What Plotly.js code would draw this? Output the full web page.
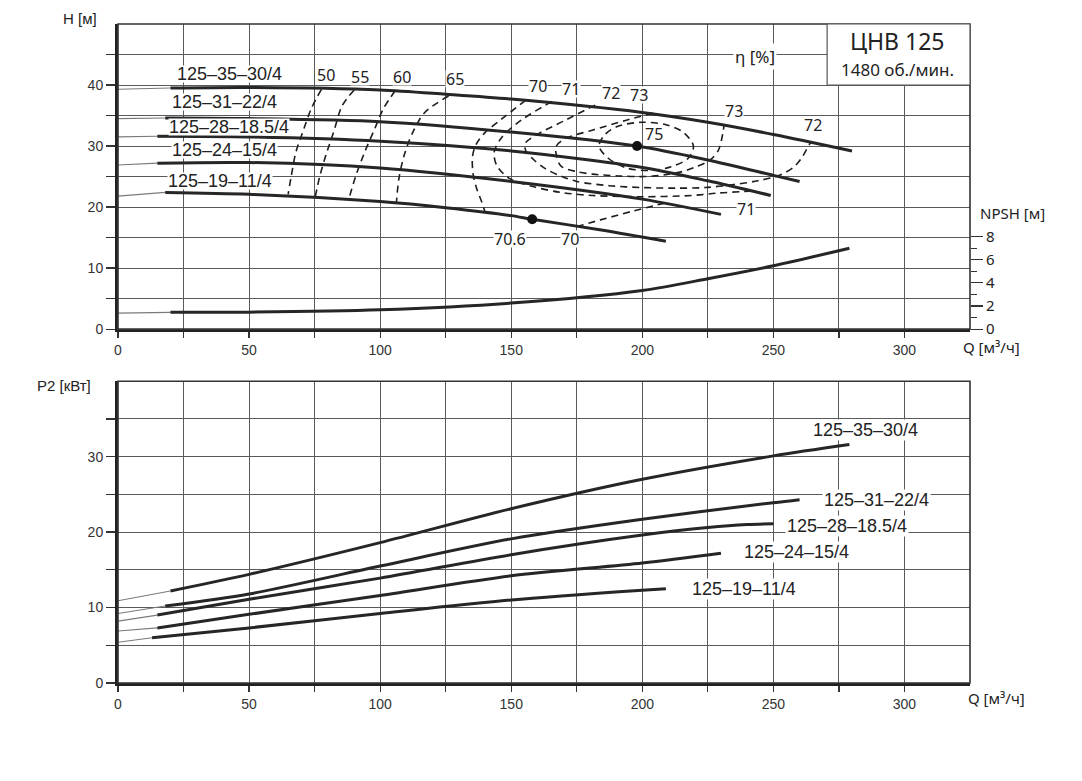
<!DOCTYPE html>
<html><head><meta charset="utf-8">
<script src="https://cdn.plot.ly/plotly-3.0.1.min.js"></script>
<style>body{margin:0;background:#fff}#chart{width:1082px;height:781px}</style>
</head><body><div id="chart"></div>
<script>
// ---------- H(Q) curves ----------
var pumpNames = ['125–35–30/4','125–31–22/4','125–28–18.5/4','125–24–15/4','125–19–11/4'];
var Q35 = [0, 20, 50, 100, 125, 150, 200, 225, 250, 280];
var H35 = [39.3, 39.5, 39.6, 39.2, 38.5, 37.7, 35.5, 33.9, 31.9, 29.2];
var Q31 = [0, 18, 50, 100, 150, 198, 225, 250, 260];
var H31 = [34.5, 34.6, 34.5, 34.0, 32.3, 30.0, 27.7, 25.2, 24.2];
var Q28 = [0, 15, 50, 100, 150, 200, 225, 249];
var H28 = [31.5, 31.6, 31.5, 30.8, 29.2, 26.5, 24.3, 21.9];
var Q24 = [0, 15, 50, 100, 150, 200, 230];
var H24 = [26.9, 27.2, 27.3, 26.4, 24.2, 21.3, 18.8];
var Q19 = [0, 18, 50, 100, 125, 150, 158, 185, 209];
var H19 = [21.8, 22.4, 22.1, 20.9, 19.9, 18.6, 18.0, 16.2, 14.4];

// ---------- NPSH ----------
var Qn = [0, 20, 50, 100, 150, 200, 225, 250, 279];
var NPSH = [1.38, 1.45, 1.47, 1.67, 2.25, 3.34, 4.36, 5.48, 7.0];

// ---------- P2(Q) curves ----------
var P35q = [0, 20, 50, 100, 150, 200, 250, 279];
var P35 = [10.9, 12.2, 14.4, 18.6, 23.1, 27.0, 30.1, 31.6];
var P31q = [0, 18, 50, 100, 150, 200, 250, 260];
var P31 = [9.2, 10.2, 11.8, 15.5, 19.1, 21.7, 23.9, 24.3];
var P28q = [0, 15, 50, 100, 150, 200, 225, 240, 250];
var P28 = [8.2, 9.0, 11.1, 13.9, 17.0, 19.6, 20.6, 21.0, 21.1];
var P24q = [0, 15, 50, 100, 150, 200, 230];
var P24 = [6.9, 7.3, 9.1, 11.6, 14.2, 15.9, 17.2];
var P19q = [0, 13, 50, 100, 150, 200, 209];
var P19 = [5.4, 6.0, 7.3, 9.2, 11.0, 12.3, 12.5];

// ---------- best efficiency points ----------
var bepQ = [198, 158];
var bepH = [30.0, 18.0];

// ---------- efficiency iso-lines ----------
var e50Q = [77.6, 73.7, 70.4, 67.8, 66.1, 64.9];
var e50H = [39.3, 36.1, 32.2, 28.9, 25.1, 22.1];
var e55Q = [90.1, 85.5, 82.2, 79.6, 77.0, 75.3];
var e55H = [39.2, 36.6, 32.2, 28.9, 25.1, 21.8];
var e60Q = [105.8, 101.2, 97.9, 94.0, 90.7, 88.1];
var e60H = [39.1, 36.1, 32.8, 28.9, 25.1, 21.4];
var e65Q = [126.1, 117.0, 112.4, 109.1, 107.1, 106.2];
var e65H = [38.2, 35.5, 32.2, 28.4, 24.5, 20.7];
var e70aQ = [155.5, 146.0, 140.0, 136.5, 135.2, 135.6, 137.0, 138.8, 140.0];
var e70aH = [37.5, 34.3, 32.2, 30.2, 28.2, 25.0, 22.8, 20.8, 19.2];
var e70bQ = [175, 184, 196, 209];
var e70bH = [16.8, 17.9, 19.3, 20.7];
var e71Q = [165.5, 154.0, 146.5, 143.5, 144.5, 149.3, 157.9, 168.8, 181, 200, 219, 229, 241];
var e71H = [37.3, 34.3, 31.5, 29.0, 26.8, 24.7, 23.4, 22.4, 21.9, 21.7, 21.9, 22.3, 22.6];
var e72Q = [182, 170, 159.5, 155.3, 155.8, 158.5, 163, 168.8, 175, 187.5, 200, 212.5, 224, 235, 244, 252.8, 257.9, 261, 263.5, 264.5];
var e72H = [36.7, 34.1, 31.8, 30.4, 29.0, 27.8, 26.3, 25.1, 24.2, 23.5, 23.2, 23.1, 23.2, 23.7, 24.3, 25.3, 26.6, 28.2, 30.1, 30.7];
var e73Q = [204, 193.6, 180.9, 170.5, 167.2, 167.3, 169, 175, 181, 191, 201, 209, 216, 220.5, 225.8, 228.9, 230.2, 231.2];
var e73H = [35.4, 34.2, 32.6, 31.2, 30.0, 28.3, 26.7, 25.8, 25.4, 25.1, 25.0, 25.3, 25.9, 26.6, 27.7, 29.2, 31.0, 33.4];
var e75Q = [183.5, 186, 191, 200, 209, 215.5, 219.5, 217.5, 211, 203, 194, 187, 183.5];
var e75H = [30.0, 32.0, 33.3, 33.9, 33.5, 32.3, 30.0, 28.0, 26.6, 26.0, 26.4, 28.0, 30.0];

var etaLabels = ['50','55','60','65','70','71','72','73','73','72','71','70','70.6','75'];
var etaLabelQ = [79.4, 92.4, 108.4, 128.6, 160.3, 172.9, 188.2, 198.9, 235.0, 265.3, 239.5, 172.5, 149.6, 204.6];
var etaLabelH = [41.6, 41.3, 41.3, 41.0, 39.8, 39.3, 38.7, 38.4, 35.7, 33.4, 19.7, 14.8, 14.8, 31.9];

// ---------- geometry helpers ----------
var W = 1082, Hh = 781, ML = 118, MR = 112, MT = 24, MB = 98;
var PW = W - ML - MR, PH = Hh - MT - MB;
function px(x){ return (x - ML) / PW; }
function py(y){ return (Hh - MB - y) / PH; }

var CURVE = '#262626', THIN = '#7a7a7a', GRID = '#5a5a5a';
var traces = [];
function addCurve(q, v, xa, ya){
  traces.push({x: q.slice(0,2), y: v.slice(0,2), xaxis: xa, yaxis: ya, mode: 'lines',
    line: {color: THIN, width: 1.1}, hoverinfo: 'skip'});
  traces.push({x: q.slice(1), y: v.slice(1), xaxis: xa, yaxis: ya, mode: 'lines',
    line: {color: CURVE, width: 3, shape: 'spline', smoothing: 0.8}, hoverinfo: 'skip'});
}
function addDash(q, v){
  traces.push({x: q, y: v, xaxis: 'x', yaxis: 'y', mode: 'lines',
    line: {color: '#1e1e1e', width: 1.6, dash: '7px,5px', shape: 'spline', smoothing: 0.9}, hoverinfo: 'skip'});
}
[[e50Q,e50H],[e55Q,e55H],[e60Q,e60H],[e65Q,e65H],[e70aQ,e70aH],[e70bQ,e70bH],
 [e71Q,e71H],[e72Q,e72H],[e73Q,e73H],[e75Q,e75H]].forEach(function(c){ addDash(c[0], c[1]); });

addCurve(Q35, H35, 'x', 'y');
addCurve(Q31, H31, 'x', 'y');
addCurve(Q28, H28, 'x', 'y');
addCurve(Q24, H24, 'x', 'y');
addCurve(Q19, H19, 'x', 'y');
addCurve(Qn, NPSH, 'x', 'y3');
addCurve(P35q, P35, 'x2', 'y2');
addCurve(P31q, P31, 'x2', 'y2');
addCurve(P28q, P28, 'x2', 'y2');
addCurve(P24q, P24, 'x2', 'y2');
addCurve(P19q, P19, 'x2', 'y2');
traces.push({x: bepQ, y: bepH, xaxis: 'x', yaxis: 'y', mode: 'markers',
  marker: {color: '#111', size: 10}, hoverinfo: 'skip'});

var tickFont = {family: 'Liberation Sans, Arial, sans-serif', size: 14, color: '#333'};
function xAxis(anchor){
  return {anchor: anchor, domain: [0,1], range: [0,325],
    tickmode: 'array', tickvals: [0, 50, 100, 150, 200, 250, 300],
    showgrid: true, gridcolor: GRID, gridwidth: 1, zeroline: false,
    showline: true, linecolor: '#222', linewidth: 3,
    ticks: 'outside', ticklen: 6, tickcolor: '#333', tickwidth: 1.2,
    minor: {tickmode: 'array', tickvals: [25, 75, 125, 175, 225, 275], showgrid: true, gridcolor: GRID, gridwidth: 1, ticks: 'outside', ticklen: 6, tickcolor: '#333'},
    tickfont: tickFont, fixedrange: true};
}
function yAxis(anchor, dom, rng, major, minorv){
  return {anchor: anchor, domain: dom, range: rng,
    tickmode: 'array', tickvals: major,
    showgrid: true, gridcolor: GRID, gridwidth: 1, zeroline: false,
    showline: true, linecolor: '#222', linewidth: 3,
    ticks: 'outside', ticklen: 9, tickcolor: '#333', tickwidth: 1.2,
    minor: {tickmode: 'array', tickvals: minorv, showgrid: true, gridcolor: GRID, gridwidth: 1, ticks: 'outside', ticklen: 9, tickcolor: '#333'},
    tickfont: tickFont, fixedrange: true};
}

var labFont = {family: 'Liberation Sans, Arial, sans-serif', size: 18, color: '#222'};
var etaFont = {family: 'Noto Sans, sans-serif', size: 16, color: '#222'};
var ann = [];
// pump labels, H plot
var hLabQ = [42.5, 40.8, 42.3, 40.8, 38.9];
var hLabH = [41.8, 37.2, 33.1, 29.3, 24.3];
pumpNames.forEach(function(n, i){
  ann.push({text: n, x: hLabQ[i], y: hLabH[i], xref: 'x', yref: 'y', showarrow: false,
    font: labFont, bgcolor: '#fff', borderpad: 0, height: 16});
});
// pump labels, P plot
var pLabQ = [285.3, 289.5, 278.2, 259.0, 238.8];
var pLabP = [33.5, 24.3, 20.8, 17.3, 12.4];
pumpNames.forEach(function(n, i){
  ann.push({text: n, x: pLabQ[i], y: pLabP[i], xref: 'x2', yref: 'y2', showarrow: false,
    font: labFont, bgcolor: '#fff', borderpad: 1, height: 18});
});
etaLabels.forEach(function(t, i){
  ann.push({text: t, x: etaLabelQ[i], y: etaLabelH[i], xref: 'x', yref: 'y', showarrow: false,
    font: etaFont, bgcolor: '#fff', borderpad: 0, height: 16});
});
ann.push({text: 'η [%]', x: 243, y: 44.6, xref: 'x', yref: 'y', showarrow: false,
  font: {family: 'Noto Sans, sans-serif', size: 17, color: '#222'}, bgcolor: '#fff', borderpad: 1});
ann.push({text: 'ЦНВ 125', x: 297.5, y: 47.2, xref: 'x', yref: 'y', showarrow: false,
  font: {family: 'Noto Sans, sans-serif', size: 23, color: '#222'}});
ann.push({text: '1480 об./мин.', x: 297.5, y: 42.6, xref: 'x', yref: 'y', showarrow: false,
  font: {family: 'Noto Sans, sans-serif', size: 17, color: '#222'}});
var axFont = {family: 'Noto Sans, sans-serif', size: 15, color: '#222'};
var axFont2 = {family: 'Liberation Sans, Arial, sans-serif', size: 15, color: '#222'};
function paperAnn(t, x, y, f){
  return {text: t, x: px(x), y: py(y), xref: 'paper', yref: 'paper', showarrow: false,
    xanchor: 'center', yanchor: 'middle', font: f};
}
ann.push(paperAnn('H [м]', 80, 18, axFont2));
ann.push(paperAnn('P2 [кВт]', 64, 385, axFont2));
ann.push(paperAnn('Q [м³/ч]', 991, 347, axFont));
ann.push(paperAnn('Q [м³/ч]', 996, 698, axFont));
ann.push(paperAnn('NPSH [м]', 1013, 213, axFont));

var shapes = [
  {type: 'rect', xref: 'x domain', yref: 'y domain', x0: 0, x1: 1, y0: 0, y1: 1, line: {color: '#333', width: 1.6}, layer: 'above'},
  {type: 'rect', xref: 'x2 domain', yref: 'y2 domain', x0: 0, x1: 1, y0: 0, y1: 1, line: {color: '#333', width: 1.6}, layer: 'above'},
  {type: 'rect', xref: 'x', yref: 'y', x0: 270.5, x1: 325, y0: 40, y1: 50, fillcolor: '#fff', line: {color: '#555', width: 1.2}, layer: 'above'}
];

var layout = {
  width: W, height: Hh, margin: {l: ML, r: MR, t: MT, b: MB},
  paper_bgcolor: '#fff', plot_bgcolor: '#fff', showlegend: false,
  xaxis: xAxis('y'),
  yaxis: yAxis('x', [0.537, 1], [0, 50], [0, 10, 20, 30, 40], [5, 15, 25, 35, 45]),
  xaxis2: xAxis('y2'),
  yaxis2: yAxis('x2', [0, 0.458], [0, 40], [0, 10, 20, 30], [5, 15, 25, 35]),
  yaxis3: {overlaying: 'y', anchor: 'x', side: 'right', range: [0, 26.4],
    tickmode: 'array', tickvals: [0, 2, 4, 6, 8], ticks: 'outside', ticklen: 12, tickcolor: '#333', tickwidth: 1.2,
    minor: {tickmode: 'array', tickvals: [1, 3, 5, 7], ticks: 'outside', ticklen: 6, tickcolor: '#333', showgrid: false},
    showgrid: false, zeroline: false, showline: false,
    tickfont: {family: 'Noto Sans, sans-serif', size: 15, color: '#222'}, fixedrange: true},
  annotations: ann,
  shapes: shapes
};
Plotly.newPlot('chart', traces, layout, {staticPlot: true, displayModeBar: false});
</script></body></html>
